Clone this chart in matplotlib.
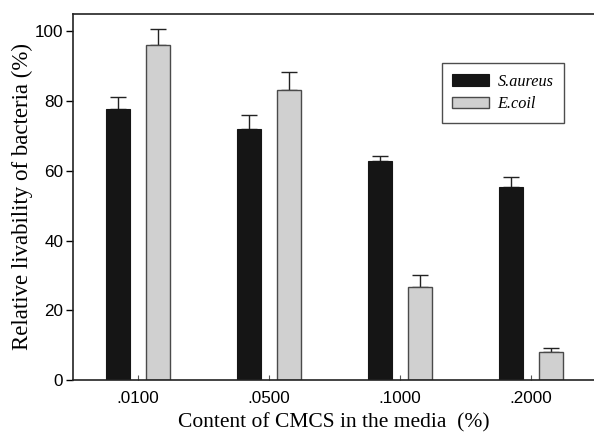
import numpy as np
import matplotlib
matplotlib.use('Agg')
import matplotlib.pyplot as plt

# Data
categories = ['.0100', '.0500', '.1000', '.2000']
s_aureus = [77.6, 72.0, 62.8, 55.3]
s_aureus_err = [3.5, 3.9, 1.6, 2.9]
e_coli = [96.1, 83.3, 26.8, 7.9]
e_coli_err = [4.7, 5.1, 3.2, 1.2]

fig = plt.figure(figsize=(5.94, 4.33), dpi=100)
ax = fig.add_axes([0.1229, 0.1224, 0.877, 0.8453])

x = np.arange(len(categories))
w = 0.183
off = 0.151

# Bars
ax.bar(x - off, s_aureus, w, color='#151515', edgecolor='#151515', linewidth=0.8,
       label='S.aureus', zorder=2)
ax.bar(x + off, e_coli, w, color='#d0d0d0', edgecolor='#4a4a4a', linewidth=1.0,
       label='E.coil', zorder=2)

# Upper error bars only
ax.errorbar(x - off, s_aureus, yerr=[np.zeros(4), s_aureus_err], fmt='none',
            ecolor='#222222', elinewidth=1.0, capsize=5.5, capthick=1.0, zorder=1)
ax.errorbar(x + off, e_coli, yerr=[np.zeros(4), e_coli_err], fmt='none',
            ecolor='#222222', elinewidth=1.0, capsize=5.5, capthick=1.0, zorder=1)

ax.set_xlim(-0.496, 3.48)
ax.set_ylim(0, 105)
ax.set_yticks([0, 20, 40, 60, 80, 100])
ax.set_xticks(x)
ax.set_xticklabels(categories)

for s in ['top', 'left', 'bottom']:
    ax.spines[s].set_linewidth(1.2)
    ax.spines[s].set_color('#222222')
ax.spines['right'].set_visible(False)

ax.tick_params(axis='y', direction='out', length=5, width=1, labelsize=12.3,
               labelfontfamily='Liberation Sans', pad=2)
ax.tick_params(axis='x', direction='in', length=3.5, width=0.8, color='#555555',
               labelsize=12.3, labelfontfamily='Liberation Sans', pad=8)

ax.set_xlabel('Content of CMCS in the media  (%)', fontsize=15.5,
              family='Liberation Serif', labelpad=5)
ax.set_ylabel('Relative livability of bacteria (%)', fontsize=16.5,
              family='Liberation Serif', labelpad=1.5)

leg = ax.legend(loc='upper left', bbox_to_anchor=(0.708, 0.866), borderaxespad=0,
                prop={'family': 'Liberation Serif', 'style': 'italic', 'size': 11.7},
                frameon=True, fancybox=False, edgecolor='#222222',
                handlelength=2.28, handleheight=0.7, handletextpad=0.5,
                borderpad=0.65, labelspacing=0.4)
leg.get_frame().set_linewidth(1.0)

fig.savefig('out.png', dpi=100)
